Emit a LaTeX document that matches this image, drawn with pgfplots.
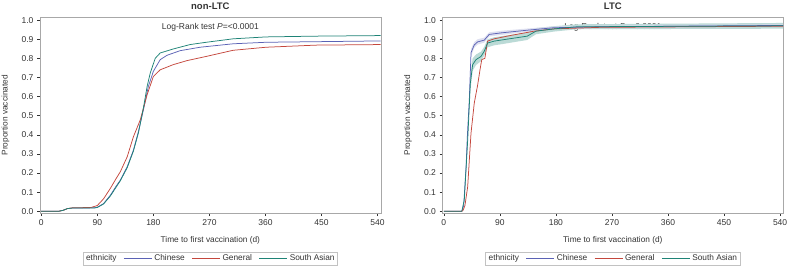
\documentclass[border=0pt]{standalone}
\usepackage{pgfplots}
\pgfplotsset{compat=1.18}
\usepackage{fontspec}
\setmainfont{Liberation Sans}
\definecolor{cchi}{HTML}{5B62B5}
\definecolor{cgen}{HTML}{C4473D}
\definecolor{csa}{HTML}{1E8376}
\definecolor{frame}{HTML}{A8A8A8}
\definecolor{txt}{HTML}{333333}
\pgfplotsset{
  base/.style={
    scale only axis, width=340.7pt, height=195.4pt, anchor=south west,
    xmin=-2, xmax=545, ymin=-0.009, ymax=1.013,
    xtick={0,90,...,540}, ytick={0,0.1,...,1.0},
    yticklabel style={/pgf/number format/.cd,fixed,fixed zerofill,precision=1},
    /pgf/number format/assume math mode=true,
    axis line style={frame},
    tick style={txt, thin},
    tick align=outside, major tick length=3pt,
    xtick pos=bottom, ytick pos=left,
    ticklabel style={font=\fontsize{8.5}{9}\selectfont, text=txt},
    label style={font=\fontsize{8.3}{9}\selectfont, text=txt},
    xlabel={Time to first vaccination (d)},
    ylabel={Proportion vaccinated},
    xlabel style={at={(axis description cs:0.5,0)}, anchor=base, yshift=-29pt},
    ylabel style={at={(axis description cs:0,0.5)}, anchor=center, rotate=0, yshift=34.5pt},
    title style={at={(axis description cs:0.5,1)}, anchor=base, yshift=1.7pt, font=\bfseries\fontsize{9.5}{10}\selectfont, text=txt},
    legend style={at={(axis description cs:0.5,-0.1975)}, anchor=north, draw=frame!70,
      font=\fontsize{8.3}{9}\selectfont, text=txt, legend columns=-1, inner sep=1pt,
      /tikz/every even column/.append style={column sep=5pt}},
    legend image code/.code={\draw[#1] (0pt,0pt) -- (28pt,0pt);},
    clip=true,
  }
}
\begin{document}
\begin{tikzpicture}[x=1pt,y=1pt]
\path[use as bounding box] (0,0) rectangle (789,265);
% ---------------- non-LTC ----------------
\begin{axis}[base, at={(40pt,52pt)}, title={non-LTC}]
\addlegendimage{empty legend}\addlegendentry{ethnicity\hspace{4pt}}
\addplot[cchi, line width=0.75pt] coordinates {(0,0) (28,0) (35,0.005) (42,0.014) (50,0.017) (85,0.018) (90,0.021) (100,0.04) (111,0.084) (120,0.13) (127,0.163) (138,0.233) (148,0.32) (156,0.417) (164,0.53) (172,0.653) (180,0.732) (191,0.793) (202,0.816) (223,0.84) (255,0.858) (308,0.876) (361,0.884) (468,0.888) (545,0.891)};
\addlegendentry{Chinese}
\addplot[cgen, line width=0.75pt] coordinates {(0,0) (28,0) (35,0.005) (42,0.014) (50,0.018) (80,0.02) (90,0.03) (100,0.065) (111,0.12) (120,0.17) (127,0.207) (138,0.285) (148,0.39) (159,0.478) (170,0.61) (180,0.705) (191,0.74) (212,0.767) (234,0.788) (265,0.81) (308,0.842) (361,0.858) (441,0.869) (545,0.872)};
\addlegendentry{General}
\addplot[csa, line width=0.75pt] coordinates {(0,0) (28,0) (35,0.005) (42,0.014) (50,0.017) (85,0.017) (90,0.02) (100,0.038) (111,0.08) (120,0.125) (127,0.16) (138,0.228) (148,0.315) (156,0.41) (164,0.54) (170,0.653) (175,0.723) (183,0.80) (191,0.828) (212,0.849) (239,0.872) (265,0.884) (308,0.902) (361,0.912) (441,0.916) (545,0.919)};
\addlegendentry{South Asian}
\node[anchor=base, font=\fontsize{8.5}{9}\selectfont, text=txt] at (rel axis cs:0.5,1) [yshift=-12.3pt] {Log-Rank test \textit{P}=<0.0001};
\end{axis}
% ---------------- LTC ----------------
\begin{axis}[base, at={(442.5pt,52pt)}, title={LTC}]
\addlegendimage{empty legend}\addlegendentry{ethnicity\hspace{4pt}}
\node[anchor=base, font=\fontsize{8.5}{9}\selectfont, text=txt] at (rel axis cs:0.5,1) [yshift=-12.3pt] {Log-Rank test \textit{P}=<0.0001};
\addplot[draw=none, fill=csa!30, forget plot] coordinates {(42.7,0.71) (46.4,0.80) (51.8,0.82) (59.8,0.835) (65,0.86) (70.4,0.90) (81,0.91) (97,0.918) (134,0.935) (148,0.958) (177,0.968) (214,0.978) (545,0.985) (545,0.955) (214,0.952) (177,0.94) (148,0.926) (134,0.896) (97,0.876) (81,0.868) (70.4,0.858) (65,0.815) (59.8,0.785) (51.8,0.765) (46.4,0.735) (42.7,0.63)} -- cycle;
\addplot[draw=none, fill=cchi!25, fill opacity=0.8, forget plot] coordinates {(43.8,0.85) (49,0.885) (54.4,0.9) (65,0.908) (73,0.936) (92,0.944) (134,0.956) (177,0.967) (250,0.972) (545,0.979) (545,0.965) (250,0.958) (177,0.953) (134,0.938) (92,0.922) (73,0.914) (65,0.882) (54.4,0.872) (49,0.855) (43.8,0.81)} -- cycle;
\addplot[cchi, line width=0.75pt] coordinates {(0,0) (29,0) (32,0.03) (35.8,0.23) (38,0.4) (41,0.58) (43.8,0.83) (49,0.87) (54.4,0.886) (65,0.895) (73,0.925) (92,0.933) (134,0.947) (177,0.96) (250,0.965) (545,0.972)};
\addlegendentry{Chinese}
\addplot[cgen, line width=0.75pt] coordinates {(0,0) (29,0) (31,0.005) (34,0.03) (38.4,0.128) (43.8,0.41) (49,0.566) (54.4,0.66) (58.7,0.75) (61,0.793) (66,0.80) (70.4,0.89) (81,0.902) (108,0.92) (145,0.942) (177,0.954) (250,0.962) (545,0.968)};
\addlegendentry{General}
\addplot[csa, line width=0.75pt] coordinates {(0,0) (29,0) (33,0.06) (38.4,0.37) (42.7,0.67) (46.4,0.767) (51.8,0.793) (59.8,0.81) (65,0.837) (70.4,0.88) (81,0.89) (97,0.898) (134,0.916) (148,0.942) (177,0.954) (214,0.965) (545,0.97)};
\addlegendentry{South Asian}
\end{axis}
\end{tikzpicture}
\end{document}
